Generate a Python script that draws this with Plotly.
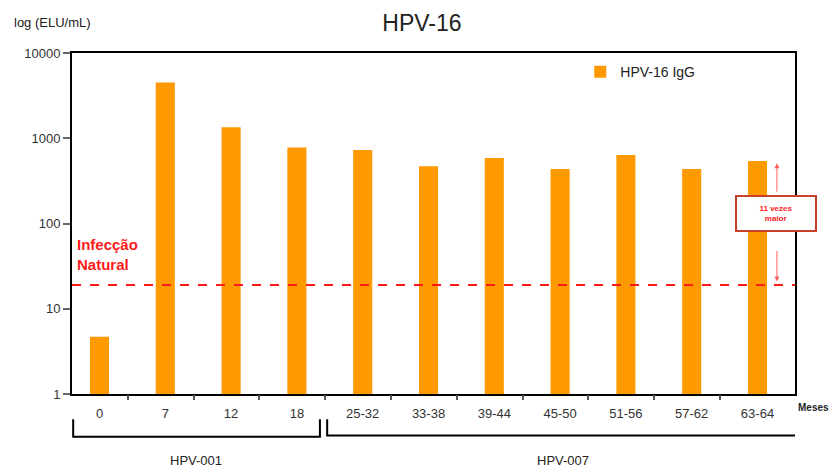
import plotly.graph_objects as go

categories = ["0", "7", "12", "18", "25-32", "33-38", "39-44", "45-50", "51-56", "57-62", "63-64"]
igg_values = [4.7, 4500, 1350, 780, 730, 470, 585, 435, 635, 435, 540]
natural_infection_level = 19
y_tickvals = [1, 10, 100, 1000, 10000]
y_ticktext = ["1", "10", "100", "1000", "10000"]
study_groups = ["HPV-001", "HPV-007"]

FONT = "Liberation Sans, Arial, sans-serif"
ORANGE = "#FF9900"
RED = "#FF1A1A"
XRANGE = [-0.418, 10.57]

fig = go.Figure()
fig.add_trace(go.Bar(
    x=categories, y=igg_values, name="HPV-16 IgG",
    marker=dict(color=ORANGE, line=dict(width=0)),
    width=0.29, showlegend=True,
))
# invisible trace to carry the secondary x axis (tick marks between groups)
fig.add_trace(go.Scatter(x=[XRANGE[0]], y=[1], xaxis="x2", mode="markers",
                         marker=dict(opacity=0), showlegend=False, hoverinfo="skip"))

fig.update_layout(
    width=829, height=467,
    margin=dict(l=72, r=34, t=53, b=73),
    paper_bgcolor="white", plot_bgcolor="white",
    font=dict(family=FONT, size=13, color="#222"),
    title=dict(text="HPV-16", x=0.509, xanchor="center", y=0.951, yanchor="middle",
               xref="container", yref="container",
               font=dict(family=FONT, size=23, color="#222")),
    bargap=0.7,
    showlegend=True,
    legend=dict(x=0.703, y=0.944, xanchor="left", yanchor="middle",
                bgcolor="rgba(0,0,0,0)", font=dict(family=FONT, size=14, color="#222"),
                itemwidth=30),
    xaxis=dict(type="category", range=XRANGE, showline=True, linecolor="black", linewidth=2,
               mirror=True, ticks="", showgrid=False, zeroline=False,
               tickfont=dict(family=FONT, size=13, color="#333"), ticklabelstandoff=6),
    xaxis2=dict(overlaying="x", anchor="y", side="bottom", range=XRANGE,
                tickvals=[k + 0.43 for k in range(len(categories) - 1)],
                ticks="outside", ticklen=5, tickwidth=1.5, tickcolor="#555",
                showticklabels=False, showline=False, showgrid=False, zeroline=False),
    yaxis=dict(type="log", range=[0, 4], tickvals=y_tickvals, ticktext=y_ticktext,
               ticks="outside", ticklen=7, tickwidth=1.5, tickcolor="#666",
               showline=True, linecolor="black", linewidth=2, mirror=True,
               showgrid=False, zeroline=False,
               tickfont=dict(family=FONT, size=13, color="#333")),
)

# natural infection reference line
fig.add_shape(type="line", xref="paper", yref="y", x0=0, x1=1,
              y0=natural_infection_level, y1=natural_infection_level,
              line=dict(color=RED, width=2, dash="dash"))

# brackets grouping the studies
def bracket(x0, x1, ytop, ybot):
    fig.add_shape(type="path", xref="x2", yref="paper",
                  path=f"M {x0},{ytop} L {x0},{ybot} L {x1},{ybot} L {x1},{ytop}",
                  line=dict(color="black", width=2))

bracket(-0.40, 3.35, -0.074, -0.125)
bracket(3.46, 10.60, -0.074, -0.122)

fig.add_annotation(text=study_groups[0], xref="x2", yref="paper", x=1.47, y=-0.195,
                   showarrow=False, yanchor="middle", font=dict(size=13, color="#222"))
fig.add_annotation(text=study_groups[1], xref="x2", yref="paper", x=7.04, y=-0.195,
                   showarrow=False, yanchor="middle", font=dict(size=13, color="#222"))
fig.add_annotation(text="<b>Meses</b>", xref="paper", yref="paper", x=1.002, y=-0.04,
                   xanchor="left", yanchor="middle", showarrow=False,
                   font=dict(size=10, color="#222"))

# axis title
fig.add_annotation(text="log (ELU/mL)", xref="paper", yref="paper", x=-0.083, y=1.088,
                   xanchor="left", yanchor="middle", showarrow=False,
                   font=dict(size=13, color="#222"))

# natural infection label
fig.add_annotation(text="<b>Infecção<br>Natural</b>", xref="paper", yref="paper",
                   x=0.004, y=0.408, xanchor="left", yanchor="middle", align="left",
                   showarrow=False, font=dict(size=15, color=RED))

# "11 times higher" box and arrows
fig.add_annotation(xref="paper", yref="paper", x=0.975, y=0.677, ax=0, ay=30,
                   text="", showarrow=True, arrowhead=2, arrowsize=1, arrowwidth=1,
                   arrowcolor="#FF6060")
fig.add_annotation(xref="paper", yref="paper", x=0.975, y=0.33, ax=0, ay=-32,
                   text="", showarrow=True, arrowhead=2, arrowsize=1, arrowwidth=1,
                   arrowcolor="#FF6060")
fig.add_annotation(text="<b>11 vezes<br>maior</b>", xref="paper", yref="paper",
                   x=0.974, y=0.529, xanchor="center", yanchor="middle",
                   showarrow=False, width=76, height=31, bgcolor="white",
                   bordercolor="#C8402A", borderwidth=2, borderpad=1,
                   font=dict(size=8, color=RED))

fig.write_html(
    "out.html",
    config={"displayModeBar": False},
    post_script="document.body.style.margin='0';document.body.style.padding='0';"
                "document.body.style.overflow='hidden';",
)
